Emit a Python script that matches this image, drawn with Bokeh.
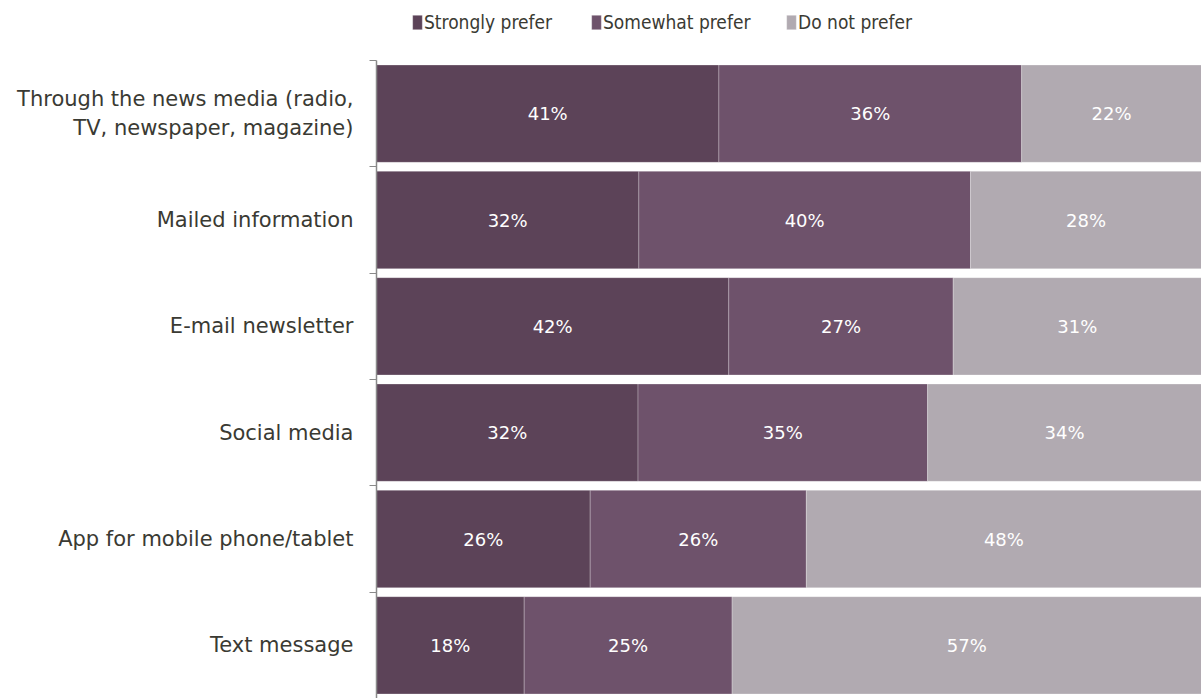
from bokeh.plotting import figure
from bokeh.models import ColumnDataSource, Range1d, FixedTicker, Legend, LegendItem
from bokeh.embed import file_html
from bokeh.resources import INLINE
from bokeh.core.properties import value

categories = [
    "Through the news media (radio,\nTV, newspaper, magazine)",
    "Mailed information",
    "E-mail newsletter",
    "Social media",
    "App for mobile phone/tablet",
    "Text message",
]
series = ["Strongly prefer", "Somewhat prefer", "Do not prefer"]
strongly = [41.5, 31.8, 42.7, 31.7, 25.9, 17.9]
somewhat = [36.7, 40.2, 27.2, 35.1, 26.2, 25.2]
do_not = [21.8, 28.0, 30.1, 33.2, 47.9, 56.9]
strongly_labels = ["41%", "32%", "42%", "32%", "26%", "18%"]
somewhat_labels = ["36%", "40%", "27%", "35%", "26%", "25%"]
do_not_labels = ["22%", "28%", "31%", "34%", "48%", "57%"]
colors = ["#5c4358", "#6e526b", "#b1aab1"]

FONT = "DejaVu Sans"
LEGEND_FONT = "DejaVu Sans Condensed, Liberation Sans"
W, H = 1201, 698
LEFT = 376
TOP_GAP = 60  # px above the first bar band, used for the legend
n = len(categories)
band = (H - TOP_GAP) / n
ypos = [n - 0.5 - i for i in range(n)]

p = figure(width=W, height=H, output_backend="svg", toolbar_location=None,
           x_range=Range1d(0, 100), y_range=Range1d(0, n + TOP_GAP / band),
           min_border_left=LEFT, min_border_right=0, min_border_top=0, min_border_bottom=0)
p.outline_line_color = None
p.xgrid.visible = False
p.ygrid.visible = False
p.xaxis.visible = False

left = [0.0] * n
renderers = []
for vals, labs, col in zip([strongly, somewhat, do_not],
                           [strongly_labels, somewhat_labels, do_not_labels], colors):
    right = [l + v for l, v in zip(left, vals)]
    mid = [(l + r) / 2 for l, r in zip(left, right)]
    src = ColumnDataSource(dict(y=ypos, left=left, right=right, mid=mid, label=labs))
    r = p.hbar(y="y", left="left", right="right", height=0.915, source=src,
               fill_color=col, line_color="#ffffff", line_alpha=0.25, line_width=1)
    renderers.append(r)
    p.text(x="mid", y="y", text="label", source=src, text_color="#ffffff",
           text_align="center", text_baseline="middle",
           text_font=value(FONT), text_font_size="18px")
    left = right

ax = p.yaxis[0]
ax.bounds = (0, n)
ax.ticker = FixedTicker(ticks=ypos, minor_ticks=list(range(n + 1)))
ax.major_label_overrides = {y: c for y, c in zip(ypos, categories)}
ax.major_tick_out = 0
ax.major_tick_in = 0
ax.minor_tick_out = 7
ax.minor_tick_in = 0
ax.minor_tick_line_color = "#8a8a8a"
ax.axis_line_color = "#8a8a8a"
ax.axis_line_width = 1.5
ax.major_label_standoff = 16
ax.major_label_text_font = FONT
ax.major_label_text_font_size = "21px"
ax.major_label_text_color = "#3a3a33"

# one legend entry per series, positioned like the reference's top legend
legend_x = [35, 214, 409]
for s, r, lx in zip(series, renderers, legend_x):
    lg = Legend(items=[LegendItem(label=s, renderers=[r])],
                orientation="horizontal", glyph_width=12, glyph_height=18,
                label_standoff=1, label_text_font=LEGEND_FONT, label_text_font_size="19px",
                label_text_color="#3a3a33", label_height=22, padding=0, margin=0,
                border_line_color=None, background_fill_alpha=0,
                location=(lx, H - 11 - 22))
    p.add_layout(lg)

open("out.html", "w").write(file_html(p, INLINE))
